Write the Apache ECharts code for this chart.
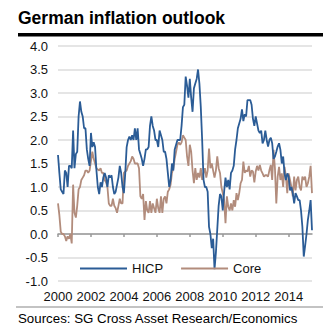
<!DOCTYPE html>
<html><head><meta charset="utf-8">
<script src="https://cdn.jsdelivr.net/npm/echarts@6/dist/echarts.min.js"></script>
<style>html,body{margin:0;padding:0;background:#fff}#c{width:334px;height:336px}</style>
</head><body><div id="c"></div>
<script>
// Monthly data, Jan 2000 .. Jun 2015
const startYear = 2000;
const endYear = 2015;
const lastMonth = 6;
const categories = [];
for (let y = startYear; y <= endYear; y++) {
  const mMax = (y === endYear) ? lastMonth : 12;
  for (let m = 1; m <= mMax; m++) categories.push(y + '-' + (m < 10 ? '0' + m : m));
}
const tickLabels = ['2000','2002','2004','2006','2008','2010','2012','2014'];
const yTicks = [-1.0,-0.5,0.0,0.5,1.0,1.5,2.0,2.5,3.0,3.5,4.0];

const hicp = [
  1.68,1.3,0.95,0.9,0.85,1.35,1.3,1.0,1.45,1.45,
  1.4,2.2,1.4,1.7,1.75,2.5,2.82,2.6,2.5,2.25,
  2.25,1.8,1.6,1.45,2.15,1.85,1.95,1.85,1.35,1.0,
  0.85,1.1,1.0,1.2,1.3,1.2,1.0,1.25,1.2,1.25,
  1.0,0.85,0.9,1.05,1.2,1.45,1.3,1.0,0.87,1.3,
  1.85,2.0,2.07,2.0,2.1,2.0,2.25,2.0,2.25,1.8,
  1.7,1.6,1.45,1.6,1.8,1.8,1.85,2.3,2.5,2.3,
  2.2,2.0,2.0,1.85,2.2,2.1,2.0,1.75,1.75,1.6,
  1.3,1.0,1.15,1.5,1.35,1.8,1.9,2.0,2.0,2.0,
  2.3,2.7,2.75,3.35,3.15,2.9,3.3,2.9,2.6,3.1,
  3.2,3.3,3.5,3.2,2.7,2.0,1.15,1.0,1.0,0.9,
  0.15,0.0,-0.3,-0.1,-0.75,-0.4,0.1,0.6,0.85,0.8,
  0.5,0.9,1.2,1.0,1.15,0.95,1.3,1.35,1.45,1.8,
  2.0,2.25,2.35,2.45,2.65,2.4,2.55,2.5,2.85,2.85,
  2.85,2.75,2.45,2.3,2.5,2.35,2.2,2.15,2.2,1.93,
  2.0,2.2,2.0,1.86,2.0,2.05,1.93,1.6,1.65,1.75,
  1.86,1.93,1.79,1.5,1.65,1.29,1.15,1.29,1.22,0.93,
  1.0,0.87,0.65,0.87,0.8,0.72,0.72,0.5,0.15,-0.48,
  -0.25,0.0,0.3,0.5,0.72,0.08
];
const core = [
  0.65,0.4,0.05,0.0,0.0,-0.05,-0.15,-0.05,-0.1,0.0,
  -0.2,1.05,0.45,0.35,0.6,0.95,1.0,1.15,1.2,1.25,
  1.35,1.35,1.3,1.35,1.55,1.75,1.6,1.5,1.4,1.37,
  1.35,1.4,1.3,1.3,1.15,1.1,1.0,0.65,0.6,0.6,
  0.75,0.6,0.55,0.45,0.6,0.75,0.65,0.65,1.3,1.33,
  1.35,1.45,1.5,1.55,1.65,1.6,1.5,1.5,1.5,1.4,
  0.8,0.75,0.85,0.3,0.7,0.5,0.45,0.7,0.45,0.65,
  0.55,0.45,0.75,0.55,0.45,0.8,0.45,0.75,0.8,0.65,
  0.9,0.95,1.05,1.3,1.4,1.6,1.75,1.9,1.95,1.9,
  1.95,2.1,2.05,2.0,1.65,1.45,1.9,1.75,1.35,1.08,
  1.4,1.15,1.3,1.2,1.4,1.15,1.3,1.4,1.2,1.35,
  1.82,1.4,1.5,1.35,1.2,1.35,1.65,1.4,1.3,1.0,
  0.87,0.72,0.23,0.8,0.58,0.5,0.65,0.5,0.72,0.58,
  0.87,0.72,0.87,1.08,1.15,1.54,1.3,1.35,1.33,1.45,
  1.22,1.35,1.33,1.1,1.33,1.45,1.35,1.47,1.35,1.29,
  1.22,1.25,1.25,1.22,1.36,1.47,1.15,1.79,1.4,0.65,
  1.22,1.43,1.15,1.29,1.0,1.43,1.22,0.87,1.29,1.15,
  1.0,0.8,1.22,0.93,1.15,1.22,1.0,0.93,1.22,1.15,
  1.22,1.0,1.08,1.22,1.45,0.87
];

const FONT = '"Liberation Sans", Arial, Helvetica, sans-serif';
const chart = echarts.init(document.getElementById('c'), null, {renderer: 'svg'});
const isYearTick = (idx, val) => tickLabels.indexOf(String(val).slice(0,4)) >= 0 && String(val).slice(5) === '01';

chart.setOption({
  animation: false,
  backgroundColor: '#fff',
  grid: {left: 58, right: 22, top: 46, bottom: 55, containLabel: false},
  legend: {
    left: 80, top: 262, padding: 0, itemGap: 18,
    itemWidth: 47, itemHeight: 2, icon: 'rect',
    textStyle: {fontFamily: FONT, fontSize: 13, color: '#111'},
    data: ['HICP', 'Core']
  },
  xAxis: [{
    type: 'category', data: categories, boundaryGap: false, position: 'bottom',
    axisLine: {show: false, onZero: false}, axisTick: {show: false},
    axisLabel: {interval: isYearTick, formatter: v => v.slice(0,4), margin: 9,
      fontFamily: FONT, fontSize: 13, color: '#111'},
    splitLine: {show: false}
  }, {
    type: 'category', data: categories, boundaryGap: false, position: 'bottom',
    axisLine: {show: true, onZero: true, lineStyle: {color: '#999', width: 1.5}},
    axisTick: {show: true, interval: isYearTick, length: 3, lineStyle: {color: '#999', width: 1.5}},
    axisLabel: {show: false}, splitLine: {show: false}
  }],
  yAxis: {
    type: 'value', min: -1, max: 4, interval: 0.5,
    axisLine: {show: false}, axisTick: {show: false},
    axisLabel: {formatter: v => v.toFixed(1), margin: 10, fontFamily: FONT, fontSize: 13, color: '#111'},
    splitLine: {lineStyle: {color: '#dcdcdc', width: 1.5}}
  },
  series: [{
    name: 'HICP', type: 'line', data: hicp, xAxisIndex: 0, showSymbol: false,
    lineStyle: {color: '#2b5c96', width: 1.8}, itemStyle: {color: '#2b5c96'}, z: 3
  }, {
    name: 'Core', type: 'line', data: core, xAxisIndex: 0, showSymbol: false,
    lineStyle: {color: '#b28c7c', width: 1.8}, itemStyle: {color: '#b28c7c'}, z: 2
  }],
  graphic: [
    {type: 'text', left: 18, top: 9, style: {text: 'German inflation outlook', fontFamily: FONT,
      fontSize: 17.5, fontWeight: 'bold', fill: '#000'}},
    {type: 'rect', shape: {x: 18, y: 33, width: 305, height: 3.5}, style: {fill: '#000'}},
    {type: 'rect', shape: {x: 16, y: 306.5, width: 307, height: 1}, style: {fill: '#888'}},
    {type: 'text', left: 18, top: 312, style: {text: 'Sources: SG Cross Asset Research/Economics',
      fontFamily: FONT, fontSize: 13.3, fill: '#000'}}
  ]
});
</script>
</body></html>
